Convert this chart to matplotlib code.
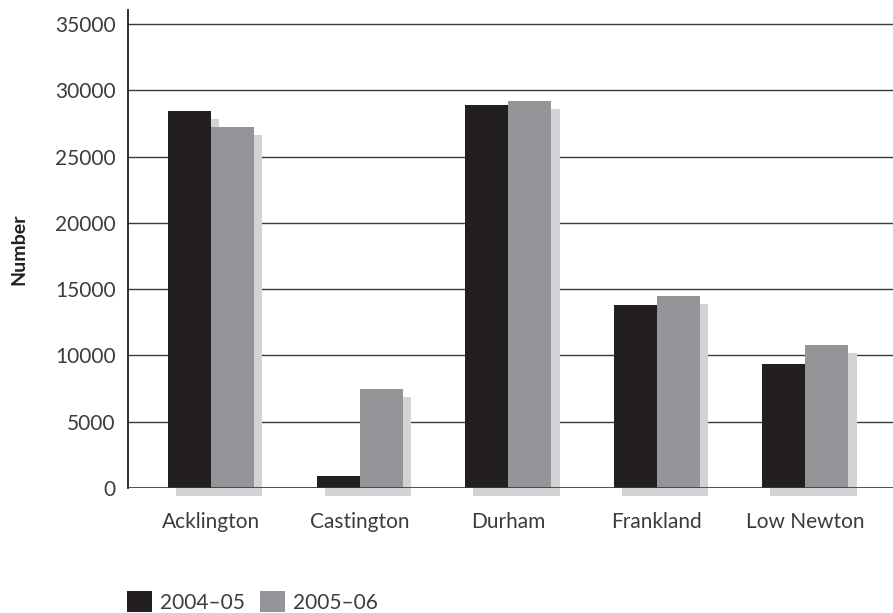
import matplotlib.pyplot as plt
from matplotlib.patches import Patch
import numpy as np

categories = ["Acklington", "Castington", "Durham", "Frankland", "Low Newton"]
series_labels = ["2004\u201305", "2005\u201306"]
values_0405 = [28400, 900, 28900, 13800, 9350]
values_0506 = [27200, 7450, 29200, 14500, 10800]
yticks = [0, 5000, 10000, 15000, 20000, 25000, 30000, 35000]

dark = "#231f20"
grey = "#939598"
shadow = "#d1d3d4"
text_col = "#3c3c3c"

plt.rcParams['font.family'] = ['Lato', 'DejaVu Sans']

fig = plt.figure(figsize=(8.93, 6.13), dpi=100)
ax = fig.add_axes([0.1433, 0.2039, 0.8567, 0.7798])

x = np.arange(len(categories))
w = 0.29
dx = 0.055
dy = 600

# drop shadows first, offset right and down
for vals, off in ((values_0405, -w / 2), (values_0506, w / 2)):
    ax.bar(x + off + dx, vals, w, bottom=-dy, color=shadow, zorder=2,
           clip_on=False, linewidth=0)
ax.bar(x - w / 2, values_0405, w, color=dark, zorder=3, linewidth=0)
ax.bar(x + w / 2, values_0506, w, color=grey, zorder=3, linewidth=0)

ax.set_xlim(-0.56, 4.59)
ax.set_ylim(0, 36050)
ax.set_yticks(yticks)
ax.set_yticklabels([str(t) for t in yticks])
ax.set_xticks(x)
ax.set_xticklabels(categories)
ax.yaxis.grid(True, color="#3a3a3a", linewidth=1.0, zorder=1)
ax.set_axisbelow(True)

for side in ("top", "right", "bottom"):
    ax.spines[side].set_visible(False)
ax.spines["left"].set_color("#231f20")
ax.spines["left"].set_linewidth(1.3)
ax.axhline(0, color="#3a3a3a", linewidth=1.2, zorder=4)

ax.tick_params(axis="both", length=0, labelsize=15, colors=text_col)
ax.tick_params(axis="y", pad=9)
ax.tick_params(axis="x", pad=17)
ax.set_ylabel("Number", fontsize=14, fontweight="bold", color="#231f20", labelpad=20)

handles = [Patch(facecolor=dark, edgecolor="none"), Patch(facecolor=grey, edgecolor="none")]
fig.legend(handles, series_labels, loc="lower left", bbox_to_anchor=(0.121, -0.03),
           ncol=2, frameon=False, fontsize=15, labelcolor=text_col,
           handlelength=1.2, handleheight=1.2, handletextpad=0.4, columnspacing=0.7)

fig.savefig("out.png", dpi=100)
